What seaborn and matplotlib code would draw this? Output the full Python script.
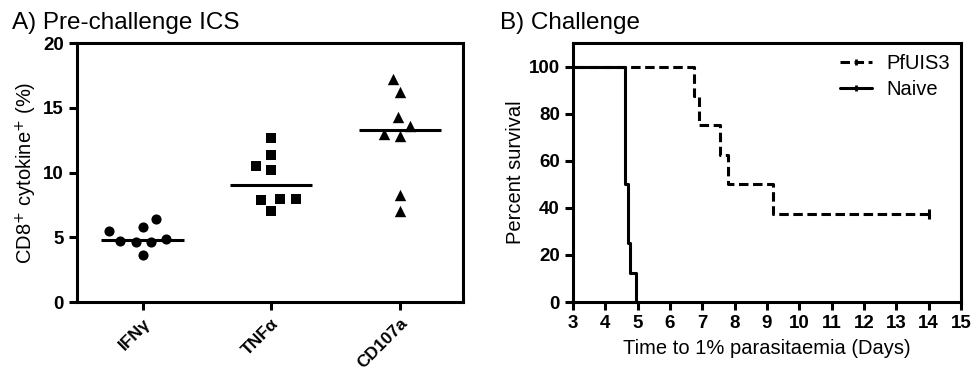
import numpy as np
import pandas as pd
import matplotlib
matplotlib.use("Agg")
import matplotlib.pyplot as plt
import seaborn as sns
from matplotlib.lines import Line2D

# ---------------- data ----------------
categories = ["IFNγ", "TNFα", "CD107a"]
ifng = [4.66, 5.5, 3.6, 6.4, 4.9, 4.6, 5.8, 4.7]
tnfa = [7.93, 7.03, 10.5, 12.7, 10.2, 7.88, 11.35, 7.93]
cd107a = [13.6, 16.2, 14.3, 12.8, 8.3, 7.0, 17.2, 12.95]
markers_a = ["o", "s", "^"]

pfuis3_times = [6.75, 6.9, 7.55, 7.8, 9.2, 14.0, 14.0, 14.0]
pfuis3_events = [1, 1, 1, 1, 1, 0, 0, 0]
naive_times = [4.6, 4.6, 4.6, 4.6, 4.7, 4.7, 4.75, 4.95]
naive_events = [1, 1, 1, 1, 1, 1, 1, 1]
groups = ["PfUIS3", "Naive"]

yticks_a = [0, 5, 10, 15, 20]
yticks_b = [0, 20, 40, 60, 80, 100]
xticks_b = list(range(3, 16))

# ---------------- style ----------------
sns.set_theme(style="ticks")
plt.rcParams["font.family"] = ["Liberation Sans", "DejaVu Sans"]
plt.rcParams.update({
    "axes.linewidth": 2.2,
    "xtick.major.width": 2.2,
    "ytick.major.width": 2.2,
    "xtick.major.size": 6,
    "ytick.major.size": 6,
    "axes.edgecolor": "black",
    "xtick.color": "black",
    "ytick.color": "black",
    "text.color": "black",
    "axes.labelcolor": "black",
})

TICK_FS = 13.5
LABEL_FS = 14.5

fig = plt.figure(figsize=(9.72, 3.73), dpi=100)
axA = fig.add_axes([0.0792, 0.1903, 0.476 - 0.0792, 0.8847 - 0.1903])
axB = fig.add_axes([0.5895, 0.1903, 0.9887 - 0.5895, 0.8847 - 0.1903])

# ---------------- panel A ----------------
df_a = pd.DataFrame({
    "cytokine": np.repeat(categories, [len(ifng), len(tnfa), len(cd107a)]),
    "value": ifng + tnfa + cd107a,
})
swarm_layout_size = 10.5          # spacing used by the beeswarm layout
final_sizes = {"o": 7.3, "s": 6.8, "^": 8.2}   # drawn marker sizes (pt)
swarm_colls = []
for cat, m in zip(categories, markers_a):
    sub = df_a[df_a["cytokine"] == cat]
    n_before = len(axA.collections)
    sns.swarmplot(data=sub, x="cytokine", y="value", order=categories,
                  marker=m, color="black", size=swarm_layout_size,
                  linewidth=0, ax=axA, zorder=3)
    for c in axA.collections[n_before:]:
        swarm_colls.append((c, m))
    med = np.median(sub["value"])
    i = categories.index(cat)
    axA.hlines(med, i - 0.32, i + 0.32, color="black", lw=2.2, zorder=5)

axA.set_ylim(0, 20)
axA.set_xlim(-0.51, 2.49)
axA.set_yticks(yticks_a)
axA.set_yticklabels([str(t) for t in yticks_a], fontweight="bold", fontsize=TICK_FS)
axA.set_xticks(range(len(categories)))
axA.set_xticklabels(categories, rotation=45, ha="right", rotation_mode="anchor",
                    fontweight="bold", fontsize=12.5)
axA.tick_params(axis="x", pad=4)
axA.set_xlabel("")
axA.set_ylabel("CD8$^{+}$ cytokine$^{+}$ (%)", fontsize=LABEL_FS, labelpad=3)
for s in axA.spines.values():
    s.set_visible(True)
    s.set_linewidth(2.2)

# ---------------- panel B ----------------
def km_curve(times, events):
    t = np.asarray(times, float)
    e = np.asarray(events)
    xs, ys = [0.0], [100.0]
    s = 1.0
    for ut in np.unique(t):
        d = e[t == ut].sum()
        at_risk = (t >= ut).sum()
        if d > 0:
            s *= 1 - d / at_risk
            xs.append(ut)
            ys.append(100 * s)
    if xs[-1] < t.max():
        xs.append(t.max())
        ys.append(ys[-1])
    return xs, ys

dash_pat = (3.1, 1.5)
for g, times, events in [("PfUIS3", pfuis3_times, pfuis3_events),
                         ("Naive", naive_times, naive_events)]:
    xs, ys = km_curve(times, events)
    sns.lineplot(x=xs, y=ys, drawstyle="steps-post", color="black", lw=2.2,
                 estimator=None, sort=False, ax=axB)
    line = axB.lines[-1]
    if g == "PfUIS3":
        line.set_dashes(dash_pat)
    t = np.asarray(times)
    e = np.asarray(events)
    cens = np.unique(t[e == 0])
    if len(cens):
        axB.plot(cens, [ys[-1]] * len(cens), ls="none", marker="|", ms=7,
                 mew=2.2, color="black")

axB.set_xlim(3, 15)
axB.set_ylim(0, 110)
axB.set_xticks(xticks_b)
axB.set_xticklabels([str(t) for t in xticks_b], fontweight="bold", fontsize=TICK_FS)
axB.set_yticks(yticks_b)
axB.set_yticklabels([str(t) for t in yticks_b], fontweight="bold", fontsize=TICK_FS)
axB.set_xlabel("Time to 1% parasitaemia (Days)", fontsize=LABEL_FS, labelpad=5)
axB.set_ylabel("Percent survival", fontsize=LABEL_FS, labelpad=3)
for s in axB.spines.values():
    s.set_visible(True)
    s.set_linewidth(2.2)

handles = [
    Line2D([], [], color="black", lw=2.2, dashes=dash_pat, marker="|", ms=5, mew=2),
    Line2D([], [], color="black", lw=2.2, marker="|", ms=5, mew=2),
]
axB.legend(handles, groups, loc="upper right", frameon=False, fontsize=LABEL_FS,
           handlelength=1.6, handletextpad=0.7, labelspacing=0.35,
           borderaxespad=0.15, bbox_to_anchor=(1.0, 1.0))

# ---------------- titles ----------------
fig.text(0.012, 0.968, "A) Pre-challenge ICS", fontsize=17.5, va="top", ha="left")
fig.text(0.514, 0.968, "B) Challenge", fontsize=17.5, va="top", ha="left")

# let seaborn's beeswarm lay out the points, then freeze the layout and
# draw the markers at their final size
fig.canvas.draw()
for c, m in swarm_colls:
    if "draw" in c.__dict__:
        del c.draw
    c.set_sizes([final_sizes[m] ** 2])

fig.savefig("out.png", dpi=100)
